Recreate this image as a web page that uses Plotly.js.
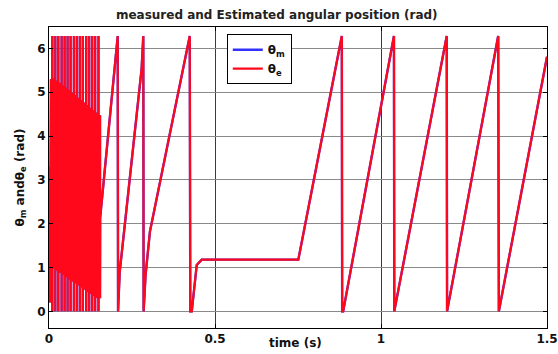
<!DOCTYPE html>
<html>
<head>
<meta charset="utf-8">
<script src="https://cdn.plot.ly/plotly-3.0.1.min.js"></script>
<style>html,body{margin:0;padding:0;background:#fff;}#chart{width:558px;height:354px;}</style>
</head>
<body>
<div id="chart"></div>
<script>
// ---- data ----
// start-up transient (very first samples)
const startTime  = [0.000, 0.001, 0.003, 0.006];
const startTheta = [0.30, 3.30, 0.20, 5.30];

// fast wrapping oscillation 0..0.15 s : each cycle spans full 0..2pi,
// with a dense band between cycleLow and cycleHigh
const cycleTime    = [0.010, 0.019, 0.028, 0.038, 0.047, 0.056, 0.065, 0.075, 0.084, 0.093, 0.102, 0.112, 0.121, 0.130, 0.139, 0.149];
const cycleMidTime = [0.0146, 0.0236, 0.0326, 0.0426, 0.0516, 0.0606, 0.0696, 0.0796, 0.0886, 0.0976, 0.1066, 0.1166, 0.1256, 0.1346, 0.1436, 0.1536];
const cycleHigh    = [5.30, 5.24, 5.19, 5.13, 5.08, 5.02, 4.96, 4.91, 4.85, 4.79, 4.74, 4.68, 4.62, 4.57, 4.51, 4.45];
const cycleLow     = [1.02, 0.97, 0.92, 0.88, 0.83, 0.78, 0.73, 0.68, 0.64, 0.59, 0.54, 0.49, 0.44, 0.40, 0.35, 0.30];
const wrapMax = 6.283;

// sawtooth ramps, plateau and steady ramps 0.15..1.5 s
const rampTime  = [0.154, 0.207, 0.208, 0.213, 0.279, 0.284, 0.285, 0.291, 0.304, 0.424, 0.4255, 0.430, 0.445, 0.460, 0.751, 0.882, 0.883, 0.886, 1.039, 1.040, 1.198, 1.199, 1.353, 1.355, 1.500];
const rampTheta = [2.13, 6.283, 0.00, 0.90, 5.54, 6.283, 0.00, 0.84, 1.82, 6.283, 0.00, 0.00, 1.06, 1.18, 1.18, 6.283, 0.00, 0.00, 6.283, 0.00, 6.283, 0.00, 6.283, 0.00, 5.81];

const xTicks = [0, 0.5, 1, 1.5];
const xTickText = ['0', '0.5', '1', '1.5'];
const yTicks = [0, 1, 2, 3, 4, 5, 6];

// ---- build the path ----
const t = [...startTime];
const th = [...startTheta];
for (let i = 0; i < cycleTime.length; i++) {
  t.push(cycleTime[i], cycleTime[i], cycleTime[i], cycleTime[i], cycleMidTime[i], cycleMidTime[i]);
  th.push(cycleLow[i], 0, wrapMax, cycleHigh[i], cycleHigh[i], cycleLow[i]);
}
t.push(...rampTime);
th.push(...rampTheta);

const FONT = 'DejaVu Sans, Arial, sans-serif';

const traces = [
  {x: t, y: th, type: 'scatter', mode: 'lines', name: 'θ<sub>m</sub>',
   line: {color: 'rgb(50,50,255)', width: 2.4}},
  {x: t, y: th, type: 'scatter', mode: 'lines', name: 'θ<sub>e</sub>',
   line: {color: 'rgb(255,8,28)', width: 2.2}}
];

const layout = {
  width: 558, height: 354,
  margin: {l: 49, r: 11, t: 27, b: 26},
  paper_bgcolor: '#fff', plot_bgcolor: '#fff',
  font: {family: FONT, size: 12, color: '#111', weight: 'bold'},
  title: {text: 'measured and Estimated angular position (rad)',
          font: {family: FONT, size: 12, weight: 'bold', color: '#222'},
          x: 0.496, xanchor: 'center', xref: 'container',
          y: 1 - 15/354, yanchor: 'middle', yref: 'container'},
  showlegend: true,
  legend: {x: 0.357, y: 0.976, xanchor: 'left', yanchor: 'top',
           bgcolor: '#fff', bordercolor: '#000', borderwidth: 1,
           font: {family: FONT, size: 12, weight: 'bold', color: '#111'},
           tracegroupgap: 0, itemwidth: 30},
  xaxis: {range: [0, 1.5], tickvals: xTicks, ticktext: xTickText,
          showgrid: true, gridcolor: '#3a3a3a', gridwidth: 1, zeroline: false,
          showline: true, linecolor: '#000', linewidth: 1, mirror: 'ticks',
          ticks: 'inside', ticklen: 4, tickcolor: '#000',
          tickfont: {family: FONT, size: 12, weight: 'bold', color: '#111'}},
  yaxis: {range: [-0.38, 6.49], tickvals: yTicks,
          showgrid: true, gridcolor: '#8a8a8a', gridwidth: 1, zeroline: false,
          showline: true, linecolor: '#000', linewidth: 1, mirror: 'ticks',
          ticks: 'inside', ticklen: 4, tickcolor: '#000',
          tickfont: {family: FONT, size: 12, weight: 'bold', color: '#111'}},
  annotations: [
    {text: 'time (s)', xref: 'paper', yref: 'paper', x: 0.494, y: -0.05,
     xanchor: 'center', yanchor: 'middle', showarrow: false,
     font: {family: FONT, size: 12, weight: 'bold', color: '#111'}},
    {text: 'θ<sub>m</sub> andθ<sub>e</sub> (rad)', xref: 'paper', yref: 'paper',
     x: -0.058, y: 0.5, xanchor: 'center', yanchor: 'middle', textangle: -90,
     showarrow: false, font: {family: FONT, size: 12, weight: 'bold', color: '#111'}}
  ]
};

Plotly.newPlot('chart', traces, layout, {displayModeBar: false, staticPlot: true});
</script>
</body>
</html>
